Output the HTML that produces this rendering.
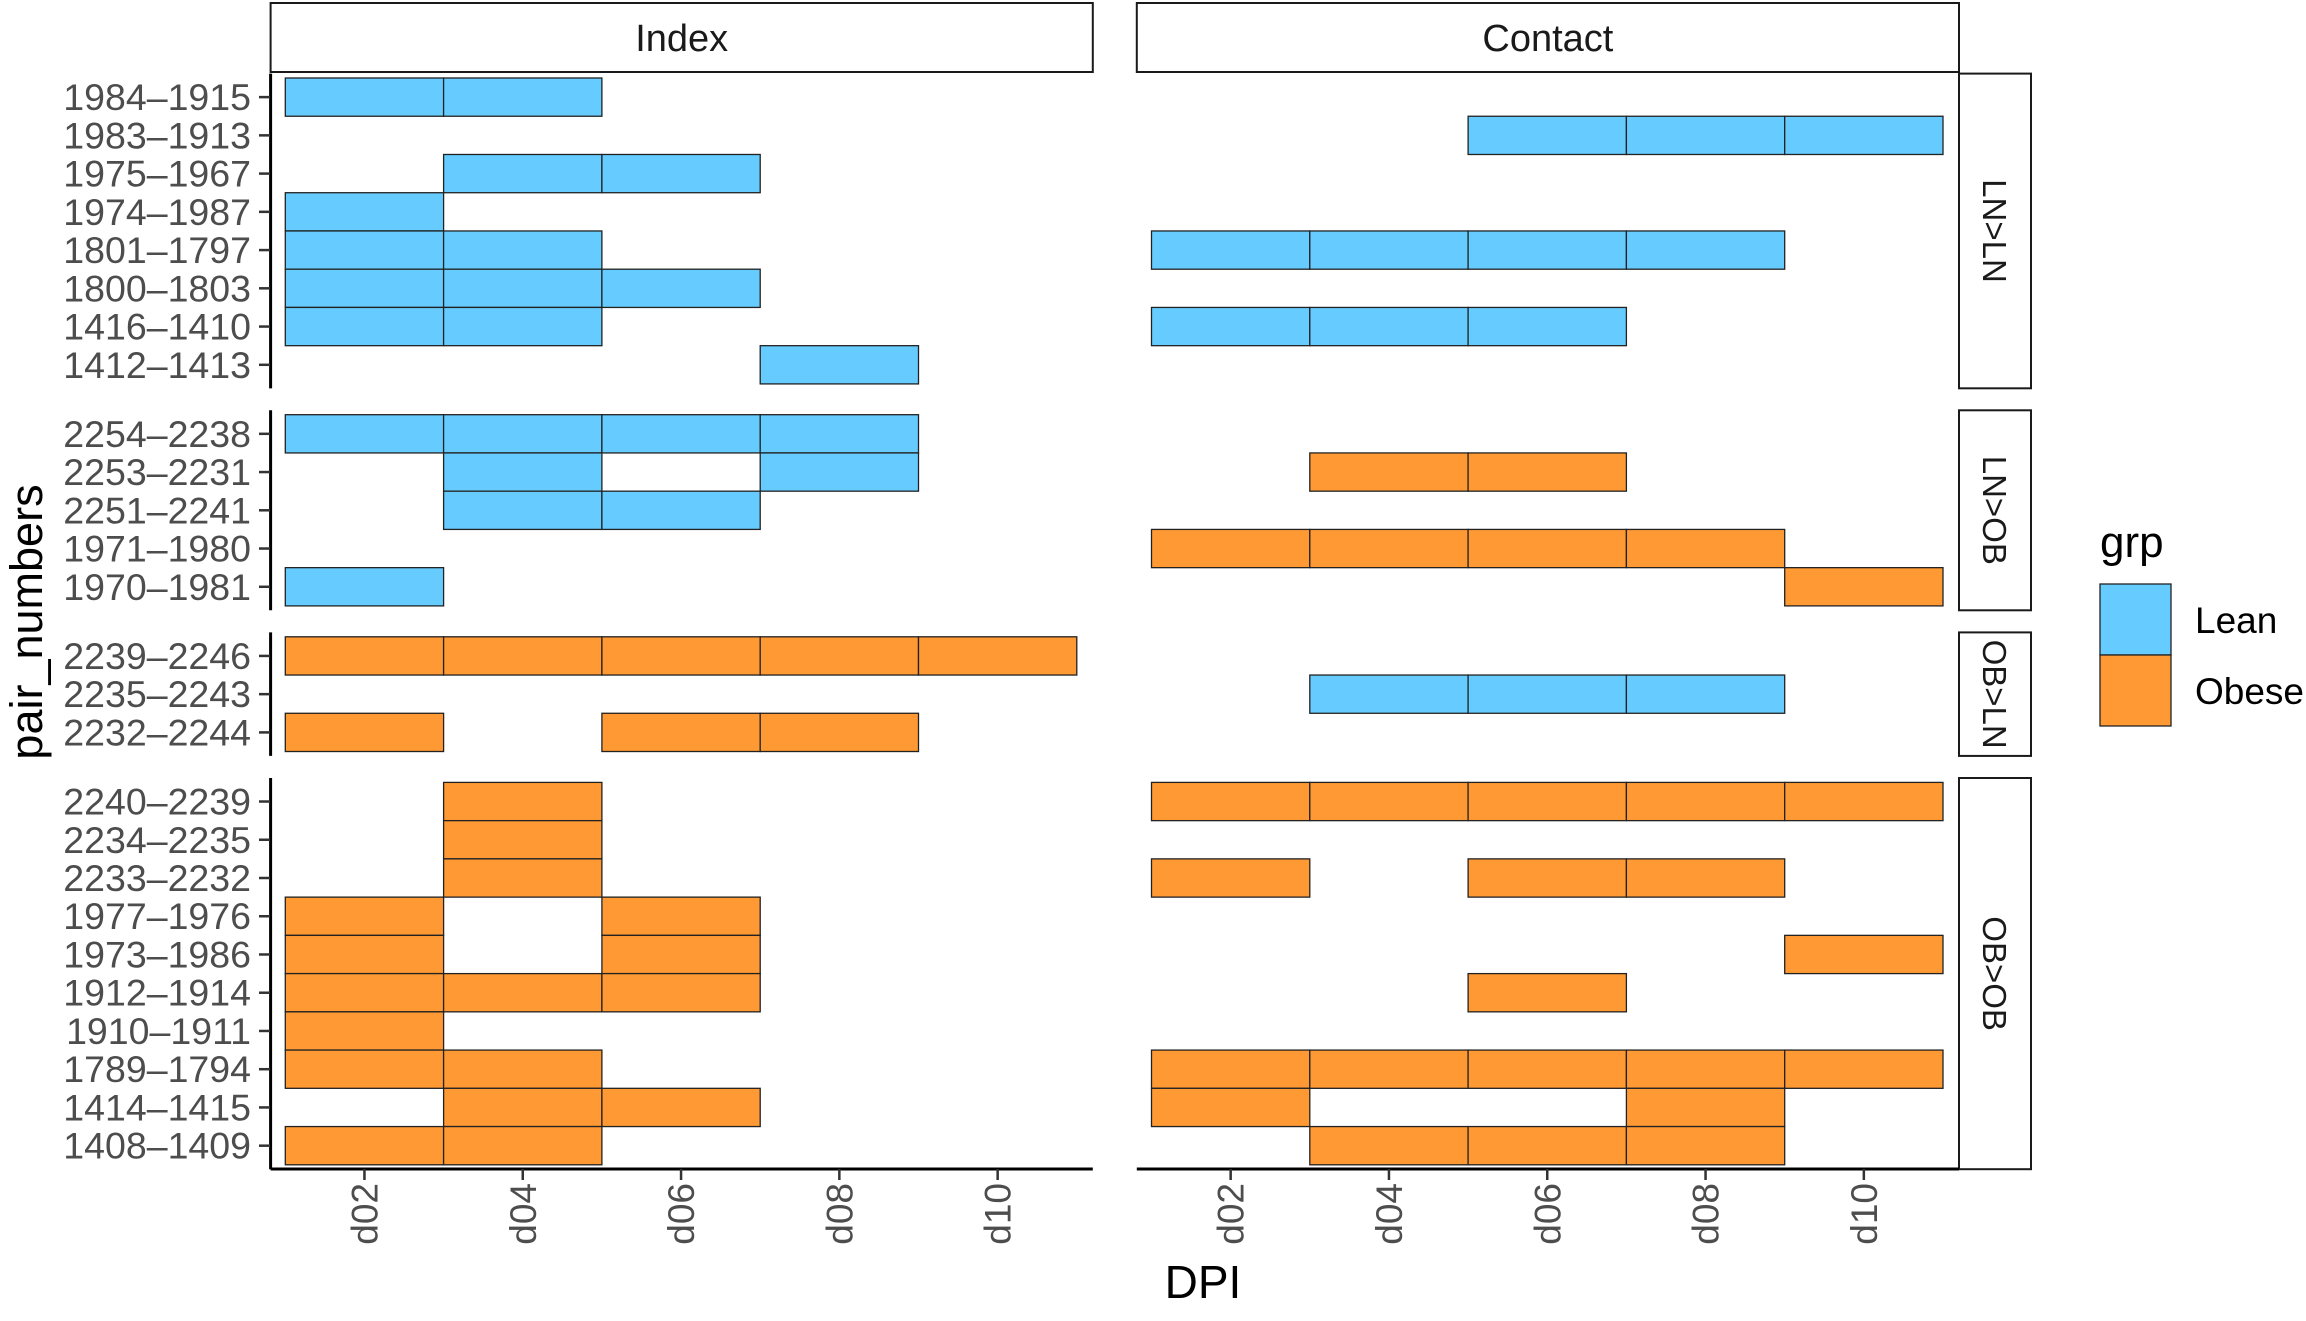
<!DOCTYPE html>
<html><head><meta charset="utf-8"><style>
html,body{margin:0;padding:0;background:#fff;}
svg{display:block;font-family:"Liberation Sans",Arial,sans-serif;}
</style></head><body>
<svg id="chart" width="2306" height="1321" viewBox="0 0 2306 1321" xmlns="http://www.w3.org/2000/svg"></svg>
<script>
const xCategories = ["d02","d04","d06","d08","d10"];
const facetNames = ["LN>LN","LN>OB","OB>LN","OB>OB"];
const facetRows = [
  ["1984\u20131915","1983\u20131913","1975\u20131967","1974\u20131987","1801\u20131797","1800\u20131803","1416\u20131410","1412\u20131413"],
  ["2254\u20132238","2253\u20132231","2251\u20132241","1971\u20131980","1970\u20131981"],
  ["2239\u20132246","2235\u20132243","2232\u20132244"],
  ["2240\u20132239","2234\u20132235","2233\u20132232","1977\u20131976","1973\u20131986","1912\u20131914","1910\u20131911","1789\u20131794","1414\u20131415","1408\u20131409"]
];
const panelNames = ["Index","Contact"];
const indexGroups = ["Lean","Lean","Obese","Obese"];
const contactGroups = ["Lean","Obese","Lean","Obese"];
const indexCells = [
  [[0,1],[],[1,2],[0],[0,1],[0,1,2],[0,1],[3]],
  [[0,1,2,3],[1,3],[1,2],[],[0]],
  [[0,1,2,3,4],[],[0,2,3]],
  [[1],[1],[1],[0,2],[0,2],[0,1,2],[0],[0,1],[1,2],[0,1]]
];
const contactCells = [
  [[],[2,3,4],[],[],[0,1,2,3],[],[0,1,2],[]],
  [[],[1,2],[],[0,1,2,3],[4]],
  [[],[1,2,3],[]],
  [[0,1,2,3,4],[],[0,2,3],[],[4],[2],[],[0,1,2,3,4],[0,3],[1,2,3]]
];
const legendLabels = ["Lean","Obese"];
const colors = {Lean:"#66CCFF",Obese:"#FF9933"};

const svg = document.getElementById('chart');
const NS = "http://www.w3.org/2000/svg";
function mk(tag, attrs, parent){ const e=document.createElementNS(NS,tag); for(const k in attrs) e.setAttribute(k,attrs[k]); (parent||svg).appendChild(e); return e; }

const panelX0 = [270.6, 1136.8];
const panelW = 822.2;
const tileW = 158.3, rowH = 38.24, pad = 4.4;
const tileTops = [78, 414.7, 636.8, 782.4];
const xAxisY = 1169;
function xPos(p, c){ return panelX0[p] + 14.7 + c*tileW; }
function yPos(f, r){ return tileTops[f] + r*rowH; }

panelNames.forEach((n,p)=>{
  const r = mk('rect',{x:panelX0[p],y:3,width:panelW,height:69,fill:'#fff',stroke:'#1a1a1a','stroke-width':2});
  
  
  const t = mk('text',{x:panelX0[p]+panelW/2,y:51,'text-anchor':'middle','font-size':38,fill:'#1a1a1a'});
  t.textContent = n;
  
  
});

facetNames.forEach((n,f)=>{
  const top = tileTops[f]-pad, h = facetRows[f].length*rowH + 2*pad;
  const r = mk('rect',{x:1959,y:top,width:72,height:h,fill:'#fff',stroke:'#1a1a1a','stroke-width':2});
  
  
  const cx = 1995, cy = top + h/2;
  const t = mk('text',{x:cx,y:cy+12,'text-anchor':'middle','font-size':33,fill:'#1a1a1a',transform:`rotate(90 ${cx} ${cy})`});
  t.textContent = n;
  
  
});

[indexCells, contactCells].forEach((cells,p)=>{
  const groups = p===0?indexGroups:contactGroups;
  cells.forEach((rows,f)=>{
    rows.forEach((cols,r)=>{
      cols.forEach(c=>{
        const t = mk('rect',{x:xPos(p,c),y:yPos(f,r),width:tileW,height:rowH,fill:colors[groups[f]],stroke:'#222','stroke-width':1.3});
        
        
      });
    });
  });
});

facetRows.forEach((rows,f)=>{
  const top = tileTops[f]-pad, h = rows.length*rowH + 2*pad;
  const l = mk('line',{x1:270.6,x2:270.6,y1:top,y2:top+h,stroke:'#000','stroke-width':3});
  
  
  rows.forEach((lab,r)=>{
    const cy = yPos(f,r)+rowH/2;
    const tk = mk('line',{x1:259,x2:270,y1:cy,y2:cy,stroke:'#333','stroke-width':2.5});
    
    
    const t = mk('text',{x:251,y:cy+13,'text-anchor':'end','font-size':37.5,fill:'#4d4d4d'});
    t.textContent = lab;
    
    
  });
});

[0,1].forEach(p=>{
  const l = mk('line',{x1:panelX0[p],x2:panelX0[p]+panelW,y1:xAxisY,y2:xAxisY,stroke:'#000','stroke-width':3});
  
  
  xCategories.forEach((c,i)=>{
    const cx = xPos(p,i)+tileW/2;
    const tk = mk('line',{x1:cx,x2:cx,y1:xAxisY,y2:xAxisY+11,stroke:'#333','stroke-width':2.5});
    
    
    const t = mk('text',{x:cx+13,y:1183,'text-anchor':'end','font-size':37,fill:'#4d4d4d',transform:`rotate(-90 ${cx+13} 1183)`});
    t.textContent = c;
    
    
  });
});

const xt = mk('text',{x:1203,y:1298,'text-anchor':'middle','font-size':46,fill:'#000'});
xt.textContent = 'DPI';


const yt = mk('text',{x:42,y:622,'text-anchor':'middle','font-size':45,fill:'#000',transform:'rotate(-90 42 622)'});
yt.textContent = 'pair_numbers';



const lt = mk('text',{x:2100,y:557,'font-size':44,fill:'#000'});
lt.textContent = 'grp';


legendLabels.forEach((g,i)=>{
  const k = mk('rect',{x:2100,y:584+i*71,width:71,height:71,fill:colors[g],stroke:'#222','stroke-width':1.3});
  
  
  const t = mk('text',{x:2195,y:633+i*71,'font-size':37,fill:'#000'});
  t.textContent = g;
  
  
});
</script>
</body></html>
